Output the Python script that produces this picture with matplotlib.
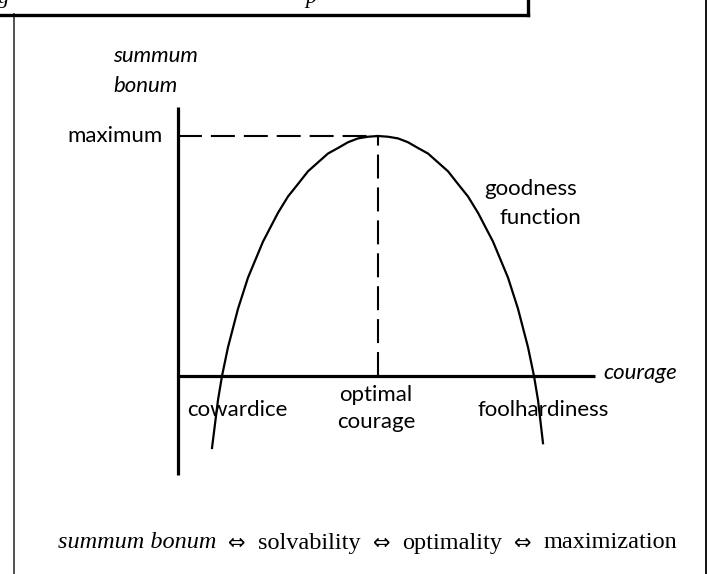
import matplotlib.pyplot as plt
from matplotlib.lines import Line2D

# goodness function (courage, summum bonum)
curve_x = [0.17, 0.20, 0.22, 0.25, 0.30, 0.35, 0.425, 0.50, 0.55, 0.60, 0.65, 0.70, 0.75,
           0.80, 0.85, 0.90, 0.95, 1.00, 1.05, 1.10, 1.15, 1.20, 1.25, 1.30, 1.35, 1.40,
           1.45, 1.50, 1.575, 1.65, 1.70, 1.75, 1.78, 1.80, 1.825]
curve_y = [-0.30, -0.10, 0.0, 0.12, 0.28, 0.41, 0.56, 0.68, 0.748, 0.80, 0.853, 0.89, 0.927,
           0.95, 0.974, 0.99, 0.997, 1.00, 0.997, 0.99, 0.974, 0.95, 0.927, 0.89, 0.853, 0.80,
           0.748, 0.68, 0.56, 0.41, 0.28, 0.12, 0.0, -0.10, -0.28]

optimal_courage = 1.0
maximum = 1.0
x_axis_end = 2.085
y_axis_range = (-0.4125, 1.121)

caption_words = ['summum bonum', 'solvability', 'optimality', 'maximization']

sans = 'Lato'
serif = 'Liberation Serif'

fig = plt.figure(figsize=(7.1, 5.74), dpi=100)
ax = fig.add_axes([0, 0, 1, 1])
ax.axis('off')
ax.set_xlim(-0.89, 2.66)
ax.set_ylim(-0.825, 1.5667)

# axes of the diagram
ax.plot([0, 0], y_axis_range, color='black', lw=2.3, solid_capstyle='butt')
ax.plot([0, x_axis_end], [0, 0], color='black', lw=2.3, solid_capstyle='butt')

# dashed guides to the optimum
ax.plot([0, optimal_courage], [maximum, maximum], color='black', lw=1.5, dashes=(11.5, 4.3))
ax.plot([optimal_courage, optimal_courage], [0, maximum], color='black', lw=1.5,
        dashes=(11.5, 4.3))

# the curve
ax.plot(curve_x, curve_y, color='black', lw=1.6, solid_joinstyle='round')

# labels
fs = 16
ax.text(-0.075, maximum, 'maximum', fontsize=fs, family=sans, ha='right', va='center')
ax.text(-0.325, 1.333, 'summum', fontsize=fs, family=sans, style='italic',
        ha='left', va='center')
ax.text(-0.325, 1.208, 'bonum', fontsize=fs, family=sans, style='italic',
        ha='left', va='center')
ax.text(2.125, 0.012, 'courage', fontsize=fs, family=sans, style='italic',
        ha='left', va='center')
ax.text(0.045, -0.142, 'cowardice', fontsize=fs, family=sans, ha='left', va='center')
ax.text(0.99, -0.079, 'optimal', fontsize=fs, family=sans, ha='center', va='center')
ax.text(0.99, -0.192, 'courage', fontsize=fs, family=sans, ha='center', va='center')
ax.text(1.5, -0.142, 'foolhardiness', fontsize=fs, family=sans, ha='left', va='center')
ax.text(1.765, 0.779, 'goodness', fontsize=fs, family=sans, ha='center', va='center')
ax.text(1.81, 0.658, 'function', fontsize=fs, family=sans, ha='center', va='center')

# bottom caption, built piece by piece
cap_y = 1 - 543 / 574
fig.canvas.draw()
r = fig.canvas.get_renderer()
x0 = 58 / 710
for i, word in enumerate(caption_words):
    if i > 0:
        x0 += 12 / 710
        t = fig.text(x0, cap_y, '\u21d4', fontsize=15, family='DejaVu Sans',
                     ha='left', va='center')
        x0 = t.get_window_extent(r).x1 / 710 + 12 / 710
    t = fig.text(x0, cap_y, word, fontsize=17.5, family=serif,
                 style='italic' if i == 0 else 'normal', ha='left', va='center')
    x0 = t.get_window_extent(r).x1 / 710

# frame and cut-off title box
fig.add_artist(Line2D([13.5 / 710, 13.5 / 710], [0, 1 - 14 / 574], color='#444444', lw=1.3))
fig.add_artist(Line2D([706 / 710, 706 / 710], [0, 1], color='black', lw=1.3))
fig.add_artist(Line2D([0, 528 / 710], [1 - 14.5 / 574, 1 - 14.5 / 574], color='black', lw=2.4))
fig.add_artist(Line2D([528 / 710, 528 / 710], [1 - 14.5 / 574, 1], color='black', lw=2.4))
fig.text(-2 / 710, 1 - 3 / 574, 'g', fontsize=16, family=serif, style='italic', va='baseline')
fig.text(305 / 710, 1 - 3 / 574, 'p', fontsize=16, family=serif, style='italic', va='baseline')

fig.savefig('out.png', dpi=100)
